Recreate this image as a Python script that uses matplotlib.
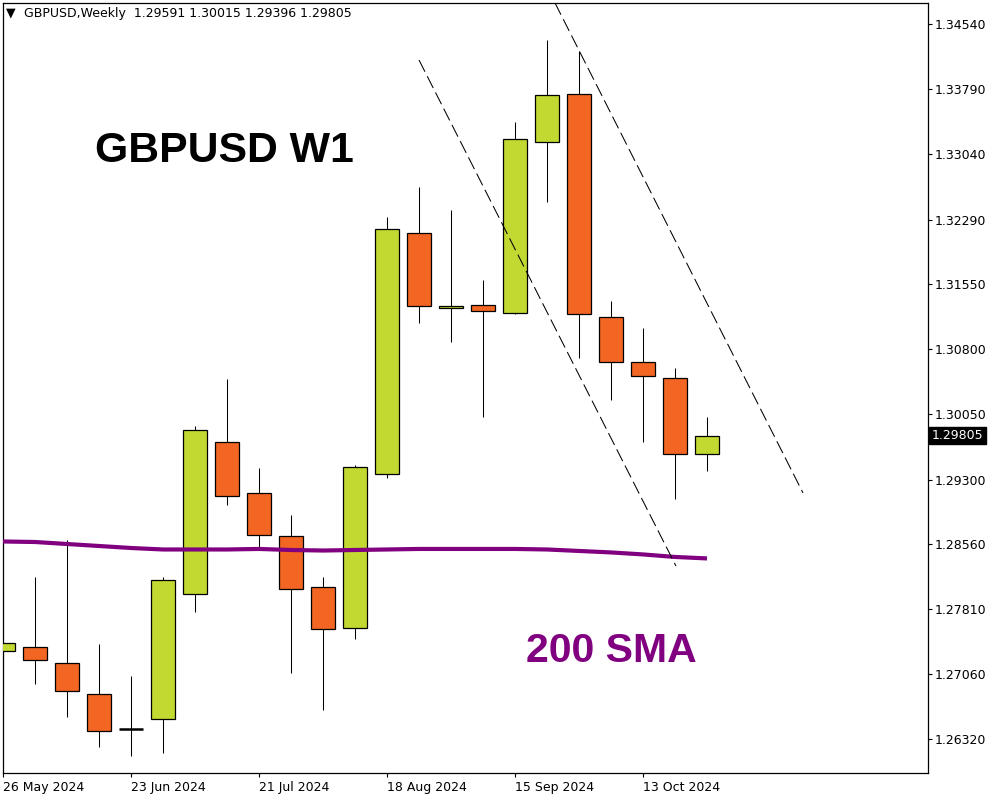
import matplotlib
matplotlib.use("Agg")
import matplotlib.pyplot as plt
import matplotlib.transforms as mtransforms

plt.rcParams['font.family'] = ['DejaVu Sans']
plt.rcParams['lines.scale_dashes'] = False

# ---- data (weekly GBPUSD candles) ----
weeks = ['26 May', '2 Jun', '9 Jun', '16 Jun', '23 Jun', '30 Jun', '7 Jul', '14 Jul',
         '21 Jul', '28 Jul', '4 Aug', '11 Aug', '18 Aug', '25 Aug', '1 Sep', '8 Sep',
         '15 Sep', '22 Sep', '29 Sep', '6 Oct', '13 Oct', '20 Oct', '27 Oct']
opens = [1.27330, 1.27372, 1.27188, 1.26832, 1.26436, 1.26544, 1.27982, 1.29730,
         1.29143, 1.28649, 1.28062, 1.27590, 1.29365, 1.32133, 1.31270, 1.31305,
         1.31213, 1.33180, 1.33732, 1.31167, 1.30650, 1.30466, 1.29591]
highs = [1.28020, 1.28184, 1.28606, 1.27410, 1.27042, 1.28184, 1.29917, 1.30458,
         1.29434, 1.28894, 1.28184, 1.29465, 1.32320, 1.32665, 1.32401, 1.31596,
         1.33413, 1.34356, 1.34233, 1.31355, 1.31044, 1.30584, 1.30015]
lows = [1.26824, 1.26950, 1.26574, 1.26229, 1.26125, 1.26160, 1.27781, 1.29012,
        1.28503, 1.27080, 1.26654, 1.27471, 1.29319, 1.31105, 1.30886, 1.30024,
        1.31201, 1.32496, 1.30702, 1.30219, 1.29736, 1.29081, 1.29396]
closes = [1.27418, 1.27223, 1.26866, 1.26406, 1.26436, 1.28143, 1.29868, 1.29109,
          1.28660, 1.28039, 1.27579, 1.29442, 1.32179, 1.31293, 1.31293, 1.31236,
          1.33218, 1.33720, 1.31202, 1.30650, 1.30489, 1.29592, 1.29805]
sma200 = [1.28589, 1.28583, 1.28560, 1.28537, 1.28514, 1.28497, 1.28497, 1.28497,
          1.28503, 1.28491, 1.28485, 1.28491, 1.28497, 1.28503, 1.28503, 1.28503,
          1.28503, 1.28497, 1.28480, 1.28463, 1.28440, 1.28411, 1.28394]

# trend lines (candle index, price) endpoints
upper_line_x = [17.25, 25.0]
upper_line_y = [1.34782, 1.29147]
lower_line_x = [13.0, 21.03]
lower_line_y = [1.34126, 1.28307]

date_tick_idx = [0, 4, 8, 12, 16, 20]
date_tick_labels = ['26 May 2024', '23 Jun 2024', '21 Jul 2024', '18 Aug 2024',
                    '15 Sep 2024', '13 Oct 2024']
price_ticks = [1.34540, 1.33790, 1.33040, 1.32290, 1.31550, 1.30800, 1.30050,
               1.29300, 1.28560, 1.27810, 1.27060, 1.26320]
last_price = 1.29805
header = 'GBPUSD,Weekly  1.29591 1.30015 1.29396 1.29805'

BULL = '#C2D932'
BEAR = '#F26522'

fig = plt.figure(figsize=(10, 8), dpi=100)
ax = fig.add_axes([0.003, 0.03375, 0.925, 0.9625])

idx = list(range(len(opens)))
# wicks
ax.vlines(idx, lows, highs, color='black', linewidth=0.75, zorder=2)
# bodies
bottoms = [min(o, c) for o, c in zip(opens, closes)]
heights = [abs(c - o) for o, c in zip(opens, closes)]
colors = [BULL if c >= o else BEAR for o, c in zip(opens, closes)]
lws = [1.8 if h == 0 else 0.9 for h in heights]
ax.bar(idx, heights, bottom=bottoms, width=0.72, color=colors,
       edgecolor='black', linewidth=lws, zorder=3)

# SMA
ax.plot(idx, sma200, color='#800080', linewidth=3.0, zorder=4,
        solid_capstyle='butt')

# dashed trend lines
ax.plot(upper_line_x, upper_line_y, color='black', linewidth=0.75,
        dashes=(9.5, 3.6), zorder=5)
ax.plot(lower_line_x, lower_line_y, color='black', linewidth=0.75,
        dashes=(9.5, 3.6), zorder=5)

ax.set_xlim(0, 28.906)
ax.set_ylim(1.259265, 1.347815)

ax.yaxis.tick_right()
ax.set_yticks(price_ticks)
ax.set_yticklabels([f'{p:.5f}' for p in price_ticks])
ax.tick_params(axis='y', length=3, width=0.8, pad=2, labelsize=9, colors='black')

ax.set_xticks(date_tick_idx)
ax.set_xticklabels(date_tick_labels, ha='left')
ax.tick_params(axis='x', length=3, width=0.8, pad=3, labelsize=9, colors='black')
for lbl in ax.get_xticklabels():
    lbl.set_horizontalalignment('left')

for s in ax.spines.values():
    s.set_linewidth(0.9)
    s.set_color('black')

# current price label
trans = mtransforms.blended_transform_factory(ax.transAxes, ax.transData)
ax.text(1.004, last_price, f'{last_price:.5f}', transform=trans, color='white',
        fontsize=9, va='center', ha='left', zorder=10, clip_on=False,
        bbox=dict(boxstyle='square,pad=0.18', facecolor='black', edgecolor='black'))

# header
fig.text(0.006, 0.9838, '\u25BC', fontsize=9, va='center', ha='left', color='black')
fig.text(0.024, 0.9835, header, fontsize=9, va='center', ha='left', color='black')

# big annotations
fig.text(0.095, (800 - 162.3) / 800, 'GBPUSD W1', fontsize=30.8, fontweight='bold',
         family='Liberation Sans', color='black', va='baseline', ha='left')
fig.text(0.526, (800 - 662.3) / 800, '200 SMA', fontsize=29.5, fontweight='bold',
         family='Liberation Sans', color='#800080', va='baseline', ha='left')

fig.savefig('out.png', dpi=100)
